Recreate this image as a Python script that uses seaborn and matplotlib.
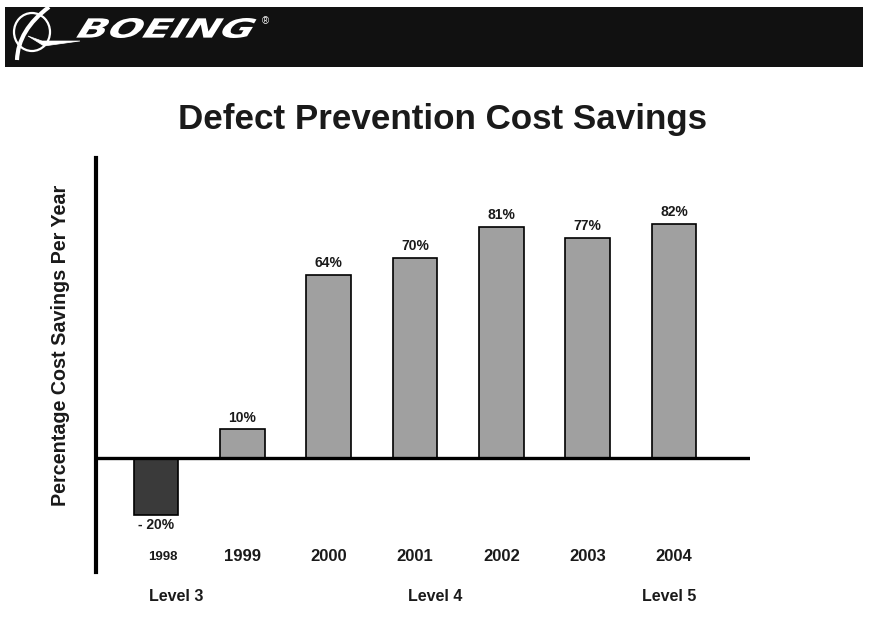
import matplotlib
matplotlib.use('Agg')
import matplotlib.pyplot as plt
import seaborn as sns
import pandas as pd
from matplotlib.patches import Rectangle, Ellipse, PathPatch
from matplotlib.path import Path
from matplotlib.textpath import TextPath
from matplotlib.font_manager import FontProperties
from matplotlib.transforms import Affine2D, IdentityTransform

# Data
years = ['1998', '1999', '2000', '2001', '2002', '2003', '2004']
savings = [-20, 10, 64, 70, 81, 77, 82]
value_labels = ['- 20%', '10%', '64%', '70%', '81%', '77%', '82%']
levels = ['Level 3', 'Level 4', 'Level 5']
level_pos = [0.23, 3.23, 5.94]

df = pd.DataFrame({'year': years, 'savings': savings})

sns.set_style('white')
plt.rcParams['font.family'] = ['Liberation Sans', 'DejaVu Sans']

W, H = 873, 621
fig = plt.figure(figsize=(W / 100, H / 100), dpi=100)
ident = IdentityTransform()


def px(x, y):
    # image pixel (top-left origin) -> display coords
    return (x, H - y)


# header banner
fig.patches.append(Rectangle((5 / W, 1 - 67 / H), 858 / W, 60 / H,
                             transform=fig.transFigure, facecolor='#111111',
                             edgecolor='none'))
# logo ring, swoosh and wing
fig.patches.append(Ellipse((32 / W, 1 - 32 / H), 36 / W, 38 / H,
                           transform=fig.transFigure, facecolor='none',
                           edgecolor='white', linewidth=1.6))
swoosh = Path([px(49, 7), px(18, 30), px(17, 60)],
              [Path.MOVETO, Path.CURVE3, Path.CURVE3])
fig.patches.append(PathPatch(swoosh, facecolor='none', edgecolor='white',
                             linewidth=3, transform=ident))
wing = Path([px(28, 36), px(42, 41), px(80, 41), px(44, 46), px(28, 36)],
            [Path.MOVETO, Path.LINETO, Path.LINETO, Path.LINETO, Path.CLOSEPOLY])
fig.patches.append(PathPatch(wing, facecolor='white', edgecolor='white',
                             linewidth=0.5, transform=ident))

# stretched italic BOEING wordmark
tp = TextPath((0, 0), 'BOEING', size=1,
              prop=FontProperties(family='DejaVu Sans', weight='bold'))
ext = tp.get_extents()
sx = 170 / ext.width
sy = 20 / ext.height
tr = (Affine2D().translate(-ext.x0, -ext.y0).skew_deg(22, 0)
      .scale(sx, sy).translate(76, H - 38))
fig.patches.append(PathPatch(tr.transform_path(tp), facecolor='white',
                             edgecolor='none', transform=ident))
fig.text(265 / W, 1 - 21 / H, '®', color='white', fontsize=7,
         va='center', ha='center')

fig.text(443 / W, 1 - 120 / H, 'Defect Prevention Cost Savings',
         fontsize=25.2, fontweight='bold', ha='center', va='center',
         color='#1a1a1a')

ax = fig.add_axes([96 / W, 1 - 572 / H, (750 - 96) / W, (572 - 158) / H])
colors = ['#3a3a3a'] + ['#a0a0a0'] * 6
sns.barplot(data=df, x='year', y='savings', hue='year', palette=colors,
            legend=False, width=0.52, edgecolor='black', linewidth=1.2,
            saturation=1, ax=ax)
ax.set_xlim(-0.695, 6.88)
ax.set_ylim(-40, 105)
ax.axhline(0, color='black', linewidth=2.4, zorder=5)
for s in ['top', 'right', 'bottom']:
    ax.spines[s].set_visible(False)
ax.spines['left'].set_linewidth(3)
ax.spines['left'].set_color('black')
ax.set_xticks([])
ax.set_yticks([])
ax.set_xlabel('')
ax.set_ylabel('')

for i, (v, lab) in enumerate(zip(savings, value_labels)):
    if v >= 0:
        ax.text(i, v + 1.6, lab, ha='center', va='bottom', fontsize=10,
                fontweight='bold', color='#1a1a1a')
    else:
        ax.text(i, v - 1.2, lab, ha='center', va='top', fontsize=10,
                fontweight='bold', color='#1a1a1a')

for i, y in enumerate(years):
    ax.text(i + (0.08 if i == 0 else 0), -34.6, y, ha='center', va='center',
            fontsize=9.5 if i == 0 else 12, fontweight='bold', color='#1a1a1a')

for p, lab in zip(level_pos, levels):
    ax.text(p, -48.5, lab, ha='center', va='center', fontsize=11.5,
            fontweight='bold', color='#1a1a1a', clip_on=False)

fig.text(60 / W, 1 - 345 / H, 'Percentage Cost Savings Per Year', rotation=90,
         fontsize=14.2, fontweight='bold', ha='center', va='center',
         color='#1a1a1a')

fig.savefig('out.png', dpi=100)
